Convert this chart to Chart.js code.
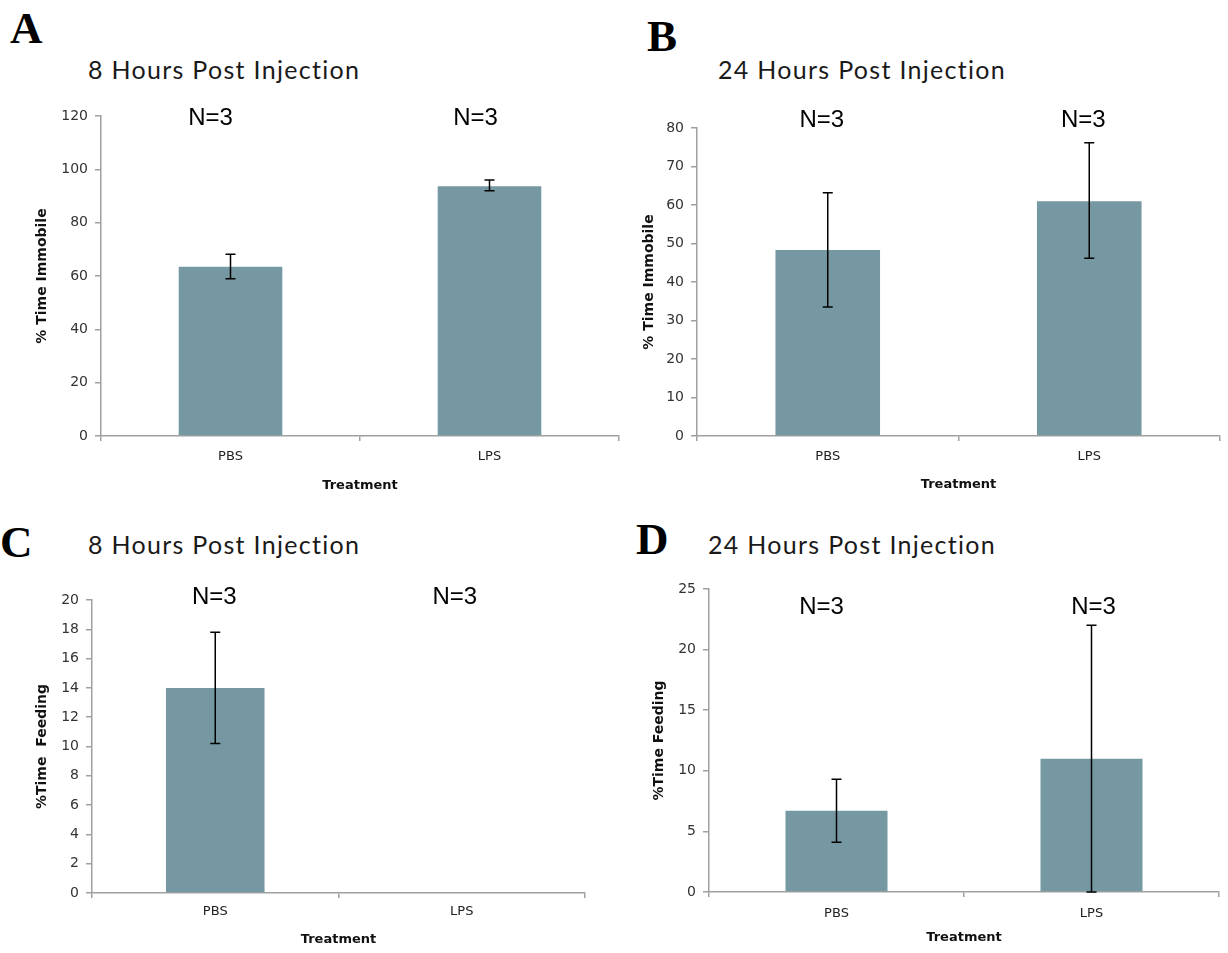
<!DOCTYPE html>
<html lang="en">
<head>
<meta charset="UTF-8">
<title>Post Injection Behaviour</title>
<script src="https://cdn.jsdelivr.net/npm/chart.js"></script>
<style>
  body { margin: 0; background: #fff; }
  #page { position: relative; width: 1228px; height: 953px; overflow: hidden; }
  .panel { position: absolute; }
  .letter { position: absolute; font-family: "Liberation Serif", "DejaVu Serif", serif; font-weight: bold; font-size: 45px; line-height: 1; color: #000; }
  .title { position: absolute; font-family: Lato, "DejaVu Sans", sans-serif; font-size: 25px; letter-spacing: 1.3px; line-height: 1; color: #1a1a1a; white-space: nowrap; }
</style>
</head>
<body>
<div id="page">
  <div class="letter" style="left:10px; top:6px;">A</div>
  <div class="letter" style="left:647px; top:14px;">B</div>
  <div class="letter" style="left:0px; top:520px;">C</div>
  <div class="letter" style="left:636px; top:517px;">D</div>

  <div class="title" style="left:88px; top:57px;">8 Hours Post Injection</div>
  <div class="title" style="left:718px; top:57px;">24 Hours Post Injection</div>
  <div class="title" style="left:88px; top:532px;">8 Hours Post Injection</div>
  <div class="title" style="left:708px; top:532px;">24 Hours Post Injection</div>

  <canvas id="chartA" class="panel" style="left:0px; top:0px;" width="630" height="500"></canvas>
  <canvas id="chartB" class="panel" style="left:630px; top:0px;" width="598" height="500"></canvas>
  <canvas id="chartC" class="panel" style="left:0px; top:500px;" width="600" height="453"></canvas>
  <canvas id="chartD" class="panel" style="left:630px; top:500px;" width="598" height="453"></canvas>
</div>

<script>
// data
const treatments = ['PBS', 'LPS'];
const nLabels = ['N=3', 'N=3'];

const immobile8h = [63.5, 93.7];
const immobile8hLow = [59.0, 92.0];
const immobile8hHigh = [68.2, 96.0];

const immobile24h = [48.3, 61.0];
const immobile24hLow = [33.5, 46.2];
const immobile24hHigh = [63.2, 76.2];

const feeding8h = [14.0, 0];
const feeding8hLow = [10.2, 0];
const feeding8hHigh = [17.8, 0];

const feeding24h = [6.7, 11.0];
const feeding24hLow = [4.1, 0];
const feeding24hHigh = [9.3, 22.0];

const barColor = 'rgb(117, 152, 163)';
const axisColor = '#a0a0a0';
const tickFont = { family: 'DejaVu Sans', size: 14 };

// error bars + N=3 labels, drawn through the scales
const errorBars = {
    id: 'errorBars',
    afterDatasetsDraw(chart, args, opts) {
        const ctx = chart.ctx;
        const xs = chart.scales.x, ys = chart.scales.y;
        ctx.save();
        ctx.strokeStyle = '#000';
        ctx.lineWidth = 1.5;
        opts.low.forEach((lo, i) => {
            const hi = opts.high[i];
            if (hi === lo) return;
            const x = xs.getPixelForValue(i);
            const y1 = ys.getPixelForValue(lo), y2 = ys.getPixelForValue(hi);
            ctx.beginPath();
            ctx.moveTo(x, y1); ctx.lineTo(x, y2);
            ctx.moveTo(x - 5, y1); ctx.lineTo(x + 5, y1);
            ctx.moveTo(x - 5, y2); ctx.lineTo(x + 5, y2);
            ctx.stroke();
        });
        // N labels
        ctx.fillStyle = '#000';
        ctx.font = '24px "Liberation Sans", Arial, sans-serif';
        ctx.textAlign = 'center';
        ctx.textBaseline = 'middle';
        nLabels.forEach((t, i) => {
            const x = xs.getPixelForValue(i) + opts.nDx[i];
            ctx.fillText(t, x, chart.chartArea.top + opts.nDy);
        });
        ctx.restore();
    }
};

function makeChart(id, cfg) {
    return new Chart(document.getElementById(id), {
        type: 'bar',
        data: {
            labels: treatments,
            datasets: [{
                data: cfg.values,
                backgroundColor: barColor,
                borderWidth: 0,
                categoryPercentage: 1.0,
                barPercentage: 0.4
            }]
        },
        options: {
            responsive: false,
            animation: false,
            layout: { padding: cfg.padding },
            plugins: {
                legend: { display: false },
                tooltip: { enabled: false },
                errorBars: { low: cfg.low, high: cfg.high, nDx: cfg.nDx, nDy: cfg.nDy }
            },
            scales: {
                x: {
                    afterFit: s => { s.height = cfg.xHeight; },
                    border: { color: axisColor, width: 1.5 },
                    grid: { offset: true, drawOnChartArea: false, color: axisColor, tickLength: 5, lineWidth: 1.5 },
                    ticks: { color: '#222', font: { family: 'DejaVu Sans', size: 13 }, padding: cfg.xTickPad },
                    title: { display: true, text: 'Treatment', color: '#111', font: { family: 'DejaVu Sans', size: 13, weight: 'bold' }, padding: { top: 0, bottom: cfg.xTitlePad } }
                },
                y: {
                    min: 0,
                    max: cfg.max,
                    afterFit: s => { s.width = cfg.yWidth; },
                    border: { color: axisColor, width: 1.5 },
                    grid: { drawOnChartArea: false, color: axisColor, tickLength: 6, lineWidth: 1.5 },
                    ticks: { stepSize: cfg.step, color: '#333', font: tickFont, padding: 7 },
                    title: { display: true, text: cfg.yTitle, color: '#111', font: { family: 'DejaVu Sans', size: 14, weight: 'bold' }, padding: { top: cfg.yTitlePad, bottom: 0 } }
                }
            }
        },
        plugins: [errorBars]
    });
}

makeChart('chartA', {
    values: immobile8h, low: immobile8hLow, high: immobile8hHigh,
    max: 120, step: 20, yTitle: '% Time Immobile',
    padding: { top: 116, right: 11, left: 30, bottom: 0 },
    yWidth: 71, xHeight: 64, xTickPad: 8, xTitlePad: 7, yTitlePad: 4,
    nDx: [-20, -14], nDy: 2
});

makeChart('chartB', {
    values: immobile24h, low: immobile24hLow, high: immobile24hHigh,
    max: 80, step: 10, yTitle: '% Time Immobile',
    padding: { top: 128, right: 8, left: 5, bottom: 0 },
    yWidth: 62, xHeight: 64, xTickPad: 8, xTitlePad: 8, yTitlePad: 6,
    nDx: [-6, -6], nDy: -8
});

makeChart('chartC', {
    values: feeding8h, low: feeding8hLow, high: feeding8hHigh,
    max: 20, step: 2, yTitle: '%Time  Feeding',
    padding: { top: 100, right: 15, left: 30, bottom: 0 },
    yWidth: 62, xHeight: 60, xTickPad: 6, xTitlePad: 6, yTitlePad: 4,
    nDx: [-1, -7], nDy: -3
});

makeChart('chartD', {
    values: feeding24h, low: feeding24hLow, high: feeding24hHigh,
    max: 25, step: 5, yTitle: '%Time Feeding',
    padding: { top: 89, right: 9, left: 14, bottom: 0 },
    yWidth: 65, xHeight: 61, xTickPad: 9, xTitlePad: 8, yTitlePad: 7,
    nDx: [-15, 2], nDy: 18
});
</script>
</body>
</html>
